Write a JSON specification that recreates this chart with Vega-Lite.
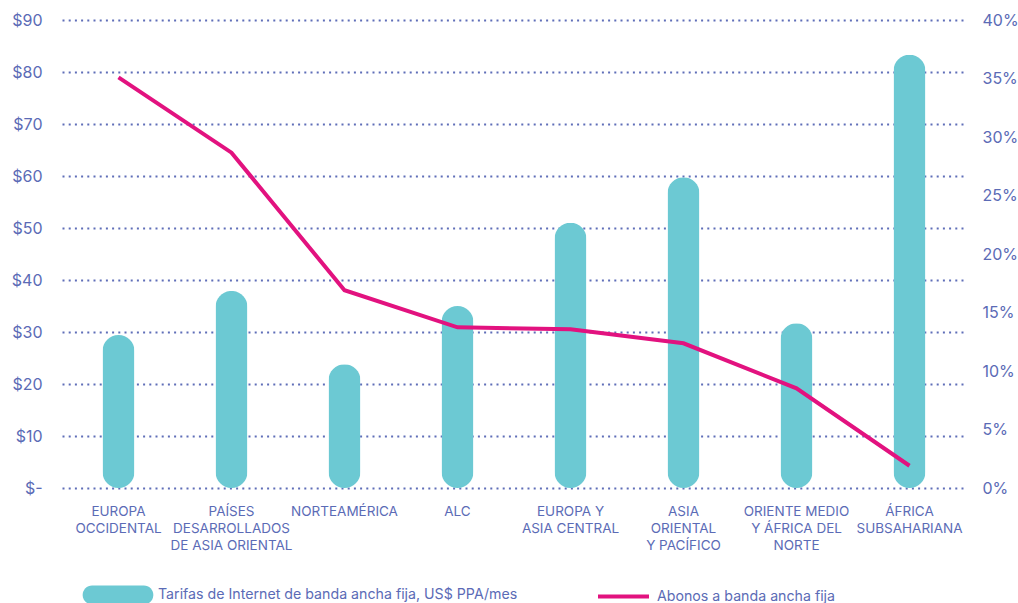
{
  "$schema": "https://vega.github.io/schema/vega-lite/v6.json",
  "width": 904,
  "height": 468,
  "autosize": {"type": "none"},
  "padding": {"left": 62, "top": 20, "right": 52, "bottom": 115},
  "background": "white",
  "config": {
    "view": {"stroke": null},
    "font": "Inter",
    "axis": {"labelFont": "Inter", "labelColor": "#5B6BB6", "domain": false, "ticks": false, "title": null},
    "legend": {"labelFont": "Inter", "labelColor": "#5B6BB6", "labelFontSize": 14.2, "labelLimit": 0}
  },
  "data": {
    "values": [
      {"region": "EUROPA\nOCCIDENTAL", "tarifa": 29.4, "abonos": 0.351},
      {"region": "PAÍSES\nDESARROLLADOS\nDE ASIA ORIENTAL", "tarifa": 37.9, "abonos": 0.2866},
      {"region": "NORTEAMÉRICA", "tarifa": 23.8, "abonos": 0.169},
      {"region": "ALC", "tarifa": 35.0, "abonos": 0.1373},
      {"region": "EUROPA Y\nASIA CENTRAL", "tarifa": 51.0, "abonos": 0.1356},
      {"region": "ASIA\nORIENTAL\nY PACÍFICO", "tarifa": 59.75, "abonos": 0.1237},
      {"region": "ORIENTE MEDIO\nY ÁFRICA DEL\nNORTE", "tarifa": 31.7, "abonos": 0.0852},
      {"region": "ÁFRICA\nSUBSAHARIANA", "tarifa": 83.3, "abonos": 0.019}
    ]
  },
  "encoding": {
    "x": {
      "field": "region",
      "type": "nominal",
      "sort": null,
      "scale": {"paddingInner": 0, "paddingOuter": 0},
      "axis": {
        "labelAngle": 0,
        "labelPadding": 16,
        "labelBaseline": "top",
        "labelFontSize": 13.5,
        "labelLineHeight": 17,
        "labelLimit": 0,
        "labelOverlap": false,
        "labelExpr": "split(datum.value, '\\n')",
        "grid": false
      }
    }
  },
  "layer": [
    {
      "mark": {"type": "bar", "width": 32, "cornerRadius": 16},
      "encoding": {
        "y": {
          "field": "tarifa",
          "type": "quantitative",
          "scale": {"domain": [0, 90], "nice": false},
          "axis": {
            "orient": "left",
            "values": [0, 10, 20, 30, 40, 50, 60, 70, 80, 90],
            "labelExpr": "datum.value === 0 ? '$-' : '$' + datum.value",
            "labelFontSize": 16,
            "labelPadding": 20,
            "grid": true,
            "gridColor": "#5F6EB8",
            "gridDash": [2, 4.2],
            "gridWidth": 2,
            "zindex": 0
          }
        },
        "color": {
          "datum": "Tarifas de Internet de banda ancha fija, US$ PPA/mes",
          "scale": {"range": ["#6CC9D3"]},
          "legend": {
            "orient": "none",
            "legendX": 21,
            "legendY": 540,
            "title": null,
            "symbolType": "M-0.74,-0.27L0.74,-0.27A0.27,0.27 0 0 1 0.74,0.27L-0.74,0.27A0.27,0.27 0 0 1 -0.74,-0.27Z",
            "symbolSize": 4900,
            "symbolStrokeWidth": 0,
            "labelOffset": 5
          }
        }
      }
    },
    {
      "mark": {"type": "line", "strokeWidth": 4},
      "encoding": {
        "y": {
          "field": "abonos",
          "type": "quantitative",
          "scale": {"domain": [0, 0.4], "nice": false},
          "axis": {
            "orient": "right",
            "values": [0, 0.05, 0.1, 0.15, 0.2, 0.25, 0.3, 0.35, 0.4],
            "format": ".0%",
            "labelFontSize": 16,
            "labelPadding": 16,
            "grid": false
          }
        },
        "stroke": {
          "datum": "Abonos a banda ancha fija",
          "scale": {"range": ["#E2127F"]},
          "legend": {
            "orient": "none",
            "legendX": 534,
            "legendY": 549,
            "title": null,
            "symbolType": "stroke",
            "symbolSize": 2601,
            "symbolStrokeWidth": 4,
            "labelOffset": 6
          }
        }
      }
    }
  ],
  "resolve": {"scale": {"y": "independent"}}
}
